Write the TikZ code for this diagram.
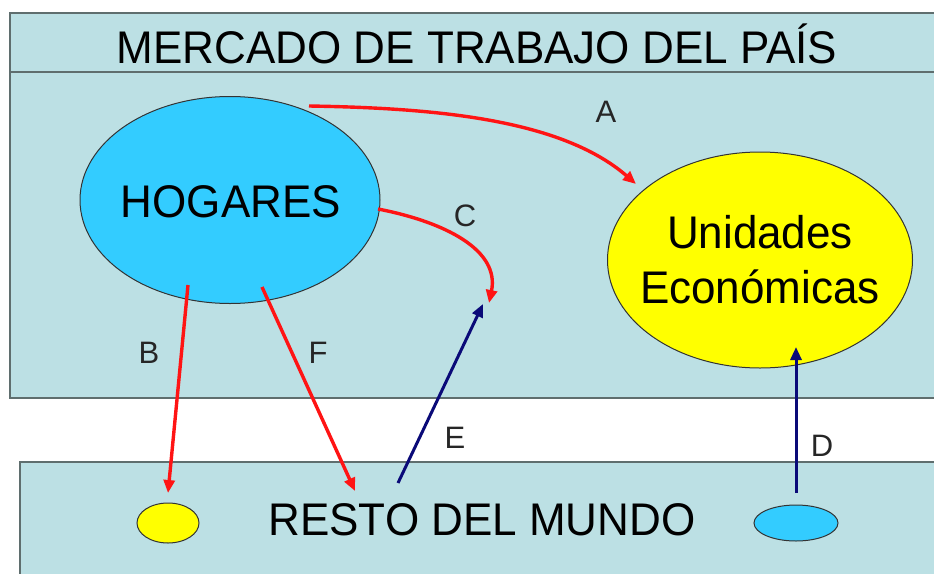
\documentclass[tikz,border=0pt]{standalone}
\usepackage{fontspec}
\setmainfont{Liberation Sans}
\usetikzlibrary{shapes.geometric,arrows.meta}
\definecolor{panel}{RGB}{188,224,228}
\definecolor{panelline}{RGB}{95,110,110}
\definecolor{hogblue}{RGB}{51,204,255}
\definecolor{uniyellow}{RGB}{255,255,0}
\definecolor{redarrow}{RGB}{255,20,20}
\definecolor{navyarrow}{RGB}{10,10,120}
\tikzset{
  panelbox/.style={fill=panel,draw=panelline,line width=2pt},
  bigtext/.style={font=\fontsize{44}{50}\selectfont,text=black,inner sep=0pt,yscale=1.04},
  lbl/.style={font=\fontsize{31}{34}\selectfont,text=black!85,inner sep=0pt},
  blob/.style={ellipse,draw=black!80,line width=1pt,inner sep=0pt},
  redflow/.style={draw=redarrow,line width=3.4pt,-{Triangle[length=13pt,width=11pt]}},
  navyflow/.style={draw=navyarrow,line width=3pt,-{Triangle[length=13pt,width=11pt]}},
}
\begin{document}
\begin{tikzpicture}[x=1pt,y=-1pt]
\useasboundingbox (0,0) rectangle (934,573);
% panels
\draw[panelbox] (10,13) rectangle (950,398);
\draw[panelline,line width=2pt] (10,72) -- (950,72);
\draw[panelbox] (20,462) rectangle (950,590);
% texts
\node[bigtext] (title) at (477,44) {MERCADO DE TRABAJO DEL PAÍS};
\node[blob,fill=hogblue,minimum width=300pt,minimum height=207pt] (hog) at (230,200) {};
\node[bigtext] (hogt) at (231,202) {HOGARES};
\node[blob,fill=uniyellow,minimum width=305pt,minimum height=216pt] (uni) at (760,260) {};
\node[bigtext,align=center] (unit) at (760,260) {Unidades\\[3pt]Económicas};
\node[bigtext] (resto) at (482,520) {RESTO DEL MUNDO};
\node[blob,fill=uniyellow,minimum width=62pt,minimum height=40pt] (ysmall) at (168,523) {};
\node[blob,fill=hogblue,minimum width=84pt,minimum height=36pt] (bsmall) at (796,523) {};
% labels
\node[lbl] (la) at (606,112) {A};
\node[lbl] (lc) at (465,216) {C};
\node[lbl] (lb) at (149,353) {B};
\node[lbl] (lf) at (318,353) {F};
\node[lbl] (le) at (455,438) {E};
\node[lbl] (ld) at (822,446) {D};
% connector ends
\coordinate (aS) at (309,106);
\coordinate (aE) at (636,184);
\coordinate (cS) at (378,209);
\coordinate (cE) at (489,303);
\coordinate (bS) at (188,285);
\coordinate (bE) at (168,493);
\coordinate (fS) at (262,287);
\coordinate (fE) at (355,491);
\coordinate (eS) at (398,483);
\coordinate (eE) at (483,304);
\coordinate (dS) at (796,493);
\coordinate (dE) at (796,347);
% connectors
\draw[redflow] (aS) .. controls (430,108) and (560,118) .. (aE);
\draw[redflow] (cS) .. controls (445,222) and (500,250) .. (cE);
\draw[redflow] (bS) -- (bE);
\draw[redflow] (fS) -- (fE);
\draw[navyflow] (eS) -- (eE);
\draw[navyflow] (dS) -- (dE);
\end{tikzpicture}
\end{document}
